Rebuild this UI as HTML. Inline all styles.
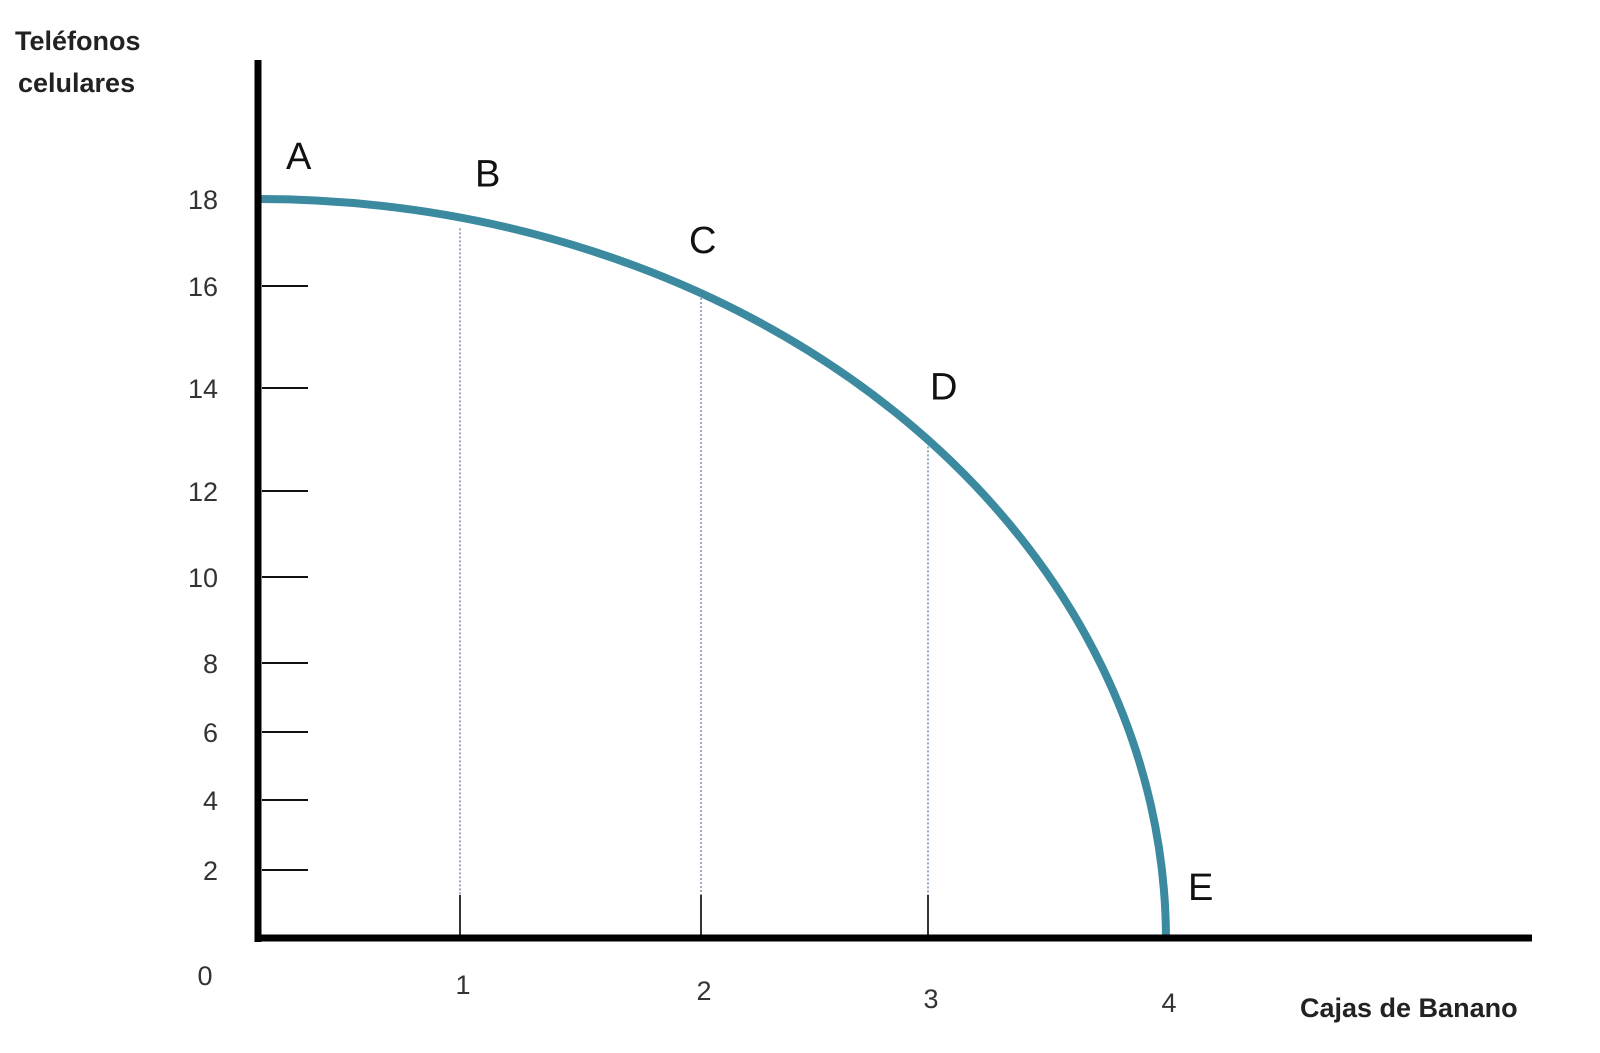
<!DOCTYPE html>
<html><head><meta charset="utf-8"><style>
body{margin:0;background:#fff;}
svg{display:block;font-family:"Liberation Sans",sans-serif;}
</style></head><body>
<svg id="c" width="1600" height="1053"></svg>
<script>
const yTicks=[2,4,6,8,10,12,14,16,18];
const xTicks=[0,1,2,3,4];
const pointLabels=["A","B","C","D","E"];
const pointX=[0,1,2,3,4];
const pointY=[18,17.6,16,13.1,0];
function sy(v){const k=[0,2,4,6,8,10,12,14,16,18],p=[940,870,800,732,663,577,491,388,286,199];
 for(let i=0;i<k.length-1;i++){if(v<=k[i+1]||i==k.length-2){const t=(v-k[i])/(k[i+1]-k[i]);return p[i]+t*(p[i+1]-p[i]);}}}
function sx(v){const k=[0,1,2,3,4],p=[258,460,701,928,1166];
 for(let i=0;i<k.length-1;i++){if(v<=k[i+1]||i==k.length-2){const t=(v-k[i])/(k[i+1]-k[i]);return p[i]+t*(p[i+1]-p[i]);}}}
const NS="http://www.w3.org/2000/svg",svg=document.getElementById('c');
function mk(t,a,txt){const e=document.createElementNS(NS,t);for(const k in a)e.setAttribute(k,a[k]);if(txt!==undefined)e.textContent=txt;svg.appendChild(e);return e;}
let e;
e=mk('text',{x:15,y:50,'font-size':27,'font-weight':'bold',fill:'#222'},'Teléfonos');


e=mk('text',{x:18,y:92,'font-size':27,'font-weight':'bold',fill:'#222'},'celulares');


e=mk('text',{x:1300,y:1017,'font-size':27,'font-weight':'bold',fill:'#222'},'Cajas de Banano');


yTicks.forEach(v=>{
 if(v!==18){e=mk('line',{x1:262,x2:308,y1:sy(v),y2:sy(v),stroke:'#111','stroke-width':2});
 
 }
 e=mk('text',{x:218,y:sy(v)+10,'font-size':27,fill:'#333','text-anchor':'end'},String(v));
 
 
});
const xOff=[0,-6,0,8,12];
xTicks.forEach((v,i)=>{
 e=mk('text',{x:v===0?205:sx(v)+3,y:v===0?985:1000+xOff[i],'font-size':27,fill:'#333','text-anchor':'middle'},String(v));
 
 
});
for(let i=1;i<4;i++){
 e=mk('line',{x1:sx(pointX[i]),x2:sx(pointX[i]),y1:sy(pointY[i])+12,y2:938,stroke:'#7a8fa8','stroke-width':1.5,'stroke-dasharray':'2,2'});
 
 
 e=mk('line',{x1:sx(pointX[i]),x2:sx(pointX[i]),y1:895,y2:938,stroke:'#333','stroke-width':2});
 
 
}
const P=pointX.map((x,i)=>[sx(x),sy(pointY[i])]);
const last=P.length-1;
const rx=P[last][0]-P[0][0], ry=P[last][1]-P[0][1];
const d=`M${P[0][0]},${P[0][1]} A${rx},${ry} 0 0 1 ${P[last][0]},${P[last][1]}`;
e=mk('path',{d:d,fill:'none',stroke:'#3b8aa0','stroke-width':8});


e=mk('line',{x1:258,x2:258,y1:60,y2:942,stroke:'#000','stroke-width':7});


e=mk('line',{x1:255,x2:1532,y1:938,y2:938,stroke:'#000','stroke-width':7});


const lo=[[28,-30],[15,-30],[-12,-33],[2,-35],[22,-40]];
pointLabels.forEach((L,i)=>{
 e=mk('text',{x:P[i][0]+lo[i][0],y:P[i][1]+lo[i][1],'font-size':38,fill:'#111'},L);
 
 
});
</script>
</body></html>
